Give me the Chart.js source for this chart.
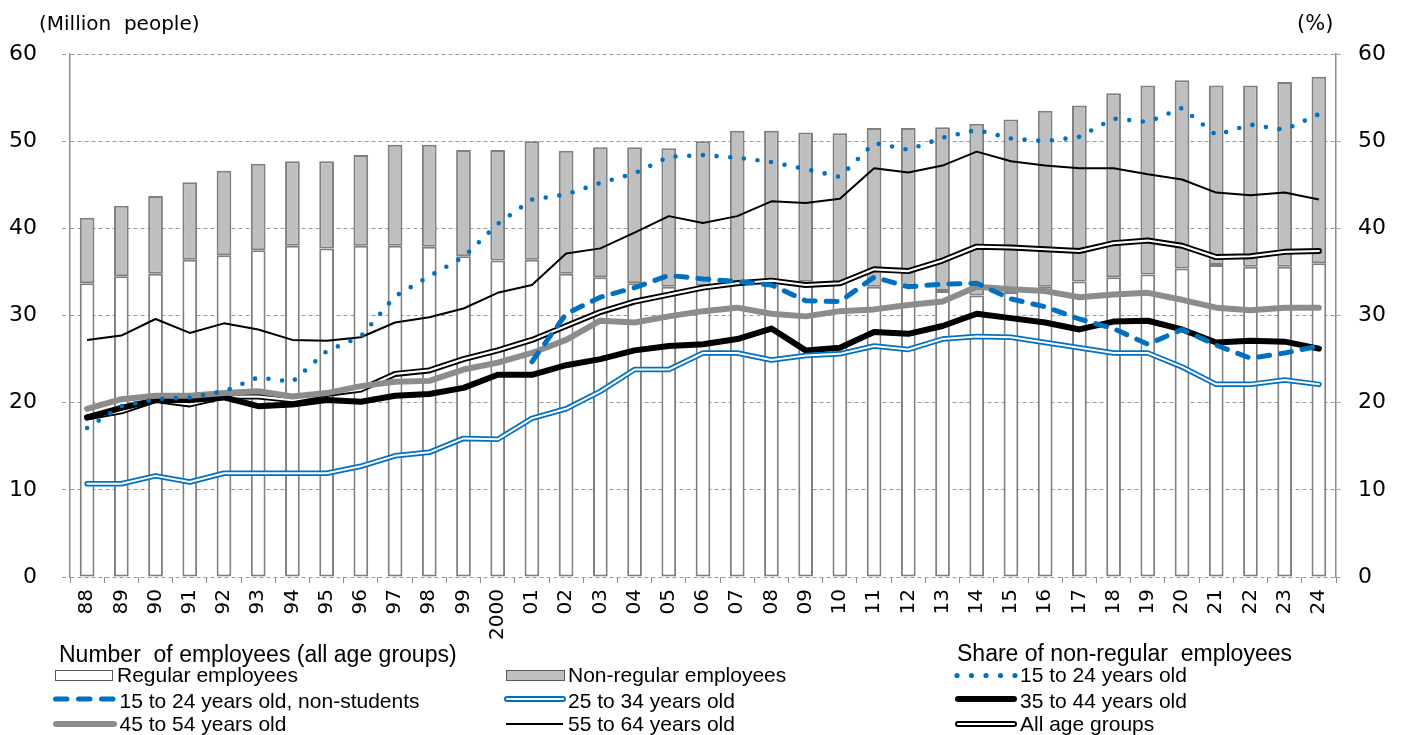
<!DOCTYPE html>
<html>
<head>
<meta charset="utf-8">
<script src="https://cdn.jsdelivr.net/npm/chart.js@4.4.1/dist/chart.umd.min.js"></script>
<style>
  html, body { margin: 0; padding: 0; background: #fff; }
  #wrap { position: relative; width: 1402px; height: 735px; overflow: hidden; }
  #c { position: absolute; left: 0; top: 0; }
  .t { position: absolute; white-space: pre; line-height: 1; transform: translateY(-50%); color: #000; }
  .axt { font-family: "DejaVu Sans", sans-serif; font-size: 20px; }
  .lh { font-family: "Liberation Sans", Arial, sans-serif; font-size: 23px; }
  .lg { font-family: "Liberation Sans", Arial, sans-serif; font-size: 21px; }
  #sw { position: absolute; left: 0; top: 0; pointer-events: none; }
</style>
</head>
<body>
<div id="wrap">
  <canvas id="c" width="1402" height="735"></canvas>

  <div class="t axt" style="left:39px;top:23px">(Million  people)</div>
  <div class="t axt" style="left:1297px;top:23px;font-size:21px">(%)</div>

  <svg id="sw" width="1402" height="735">
    <!-- bar swatches -->
    <rect x="55.5" y="670.5" width="57" height="10" fill="#ffffff" stroke="#595959" stroke-width="1"/>
    <rect x="506.5" y="670.5" width="58" height="10" fill="#bfbfbf" stroke="#595959" stroke-width="1"/>
    <!-- 15-24 non-students: dashed blue -->
    <line x1="55.5" y1="699" x2="114.5" y2="699" stroke="#0070c0" stroke-width="5" stroke-linecap="round" stroke-dasharray="11.5 11.5"/>
    <!-- 45-54: thick grey -->
    <line x1="56" y1="724" x2="114" y2="724" stroke="#8c8c8c" stroke-width="6" stroke-linecap="round"/>
    <!-- 25-34: double blue -->
    <line x1="507" y1="699" x2="563" y2="699" stroke="#0070c0" stroke-width="6" stroke-linecap="round"/>
    <line x1="507" y1="699" x2="563" y2="699" stroke="#ffffff" stroke-width="2.2" stroke-linecap="round"/>
    <!-- 55-64: thin black -->
    <line x1="506" y1="724" x2="563" y2="724" stroke="#000000" stroke-width="2"/>
    <!-- 15-24: dotted blue -->
    <g fill="#0070c0">
      <circle cx="957" cy="675.5" r="2.6"/>
      <circle cx="971.5" cy="675.5" r="2.6"/>
      <circle cx="986" cy="675.5" r="2.6"/>
      <circle cx="1000.5" cy="675.5" r="2.6"/>
      <circle cx="1015" cy="675.5" r="2.6"/>
    </g>
    <!-- 35-44: thick black -->
    <line x1="958" y1="699" x2="1014" y2="699" stroke="#000000" stroke-width="6" stroke-linecap="round"/>
    <!-- all age groups: double black -->
    <line x1="958" y1="724" x2="1014" y2="724" stroke="#000000" stroke-width="6" stroke-linecap="round"/>
    <line x1="958" y1="724" x2="1014" y2="724" stroke="#ffffff" stroke-width="2.2" stroke-linecap="round"/>
  </svg>

  <div class="t lh" style="left:59px;top:653.5px">Number  of employees (all age groups)</div>
  <div class="t lh" style="left:957px;top:652.5px">Share of non-regular  employees</div>

  <div class="t lg" style="left:117px;top:674px">Regular employees</div>
  <div class="t lg" style="left:568px;top:674px">Non-regular employees</div>
  <div class="t lg" style="left:1020px;top:674px">15 to 24 years old</div>

  <div class="t lg" style="left:119.5px;top:699.5px">15 to 24 years old, non-students</div>
  <div class="t lg" style="left:568px;top:699.5px">25 to 34 years old</div>
  <div class="t lg" style="left:1020px;top:699.5px">35 to 44 years old</div>

  <div class="t lg" style="left:119.5px;top:722.5px">45 to 54 years old</div>
  <div class="t lg" style="left:568px;top:722.5px">55 to 64 years old</div>
  <div class="t lg" style="left:1020px;top:722.5px">All age groups</div>
</div>

<script>
// Years on the category axis
const years = ['88','89','90','91','92','93','94','95','96','97','98','99','2000',
  '01','02','03','04','05','06','07','08','09','10','11','12','13','14','15','16',
  '17','18','19','20','21','22','23','24'];

// Number of employees, all age groups (million people)
const regular = [33.7,34.5,34.8,36.4,36.9,37.5,38.0,37.7,38.0,38.0,37.9,36.8,36.3,
  36.4,34.8,34.4,33.7,33.3,33.4,33.9,33.8,33.9,33.7,33.3,33.4,32.8,32.3,32.7,33.3,
  33.9,34.4,34.7,35.4,35.8,35.6,35.6,36.0];
const nonRegular = [7.5,8.1,8.9,8.9,9.7,9.9,9.7,10.0,10.4,11.6,11.7,12.2,12.7,
  13.6,14.1,14.9,15.6,15.9,16.6,17.3,17.4,17.1,17.2,18.2,18.1,18.8,19.7,19.8,20.2,
  20.2,21.1,21.7,21.6,20.6,20.8,21.2,21.4];

// Share of non-regular employees by age group (%)
const share15to24 = [17.1,19.6,20.4,20.6,21.3,22.9,22.4,25.9,27.6,32.2,34.5,36.7,40.5,
  43.3,43.9,45.2,46.3,48.2,48.4,48.1,47.6,46.8,45.9,49.8,49.0,50.4,51.3,50.3,50.0,
  50.5,52.6,52.2,53.8,50.7,51.9,51.3,53.1];
const share15to24NonStudents = [null,null,null,null,null,null,null,null,null,null,null,null,null,
  24.7,30.2,32.1,33.2,34.6,34.2,33.9,33.5,31.7,31.6,34.4,33.3,33.6,33.7,31.9,31.0,
  29.6,28.5,26.7,28.4,26.6,25.1,25.7,26.5];
const share25to34 = [10.7,10.7,11.6,10.9,11.9,11.9,11.9,11.9,12.7,13.9,14.3,15.9,15.8,
  18.2,19.3,21.3,23.8,23.8,25.7,25.7,24.9,25.4,25.6,26.5,26.1,27.3,27.6,27.5,26.9,
  26.3,25.7,25.7,24.1,22.1,22.1,22.6,22.1];
const share35to44 = [18.3,19.4,20.3,20.3,20.6,19.6,19.8,20.3,20.1,20.8,21.0,21.7,23.2,
  23.2,24.3,25.0,26.0,26.5,26.7,27.3,28.5,26.0,26.3,28.1,27.9,28.8,30.2,29.7,29.2,
  28.4,29.3,29.4,28.4,26.9,27.1,27.0,26.2];
const share45to54 = [19.3,20.4,20.8,20.8,21.1,21.3,20.7,21.1,21.9,22.4,22.5,23.8,24.6,
  25.7,27.2,29.4,29.2,29.9,30.5,30.9,30.2,29.9,30.5,30.7,31.2,31.6,33.3,33.0,32.8,
  32.1,32.4,32.6,31.8,30.9,30.6,30.9,30.9];
const share55to64 = [27.2,27.7,29.6,28.0,29.1,28.4,27.2,27.1,27.5,29.2,29.8,30.8,32.6,
  33.5,37.1,37.7,39.5,41.4,40.6,41.4,43.1,42.9,43.4,46.9,46.4,47.2,48.8,47.7,47.2,
  46.9,46.9,46.2,45.6,44.1,43.8,44.1,43.3];
const shareAllAges = [18.3,19.0,20.3,19.8,20.7,20.7,20.3,21.0,21.5,23.3,23.7,25.0,26.0,
  27.2,28.8,30.4,31.6,32.4,33.2,33.7,34.0,33.5,33.7,35.3,35.1,36.3,37.9,37.8,37.6,
  37.4,38.3,38.6,38.0,36.7,36.8,37.3,37.4];

// Shared axis range for both value axes
const axisMin = 0;
const axisMax = 60;
const axisStep = 10;

const BLUE = '#0070c0';
const tickFont = { family: 'DejaVu Sans', size: 22 };

function lineSet(data, extra) {
  return Object.assign({
    type: 'line',
    data: data,
    yAxisID: 'yR',
    pointRadius: 0,
    pointHoverRadius: 0,
    tension: 0,
    fill: false,
    borderJoinStyle: 'round',
    borderCapStyle: 'round'
  }, extra);
}

new Chart(document.getElementById('c'), {
  type: 'bar',
  data: {
    labels: years,
    datasets: [
      lineSet(share15to24, { borderColor: BLUE, borderWidth: 4.6, borderDash: [0, 13.7], order: 0 }),
      lineSet(share15to24NonStudents, { borderColor: BLUE, borderWidth: 5, borderDash: [11, 11], order: 1 }),
      lineSet(share25to34, { borderColor: '#ffffff', borderWidth: 2, order: 2 }),
      lineSet(share25to34, { borderColor: BLUE, borderWidth: 5.5, order: 3 }),
      lineSet(share45to54, { borderColor: '#8c8c8c', borderWidth: 6, order: 4 }),
      lineSet(share35to44, { borderColor: '#000000', borderWidth: 6, order: 5 }),
      lineSet(shareAllAges, { borderColor: '#ffffff', borderWidth: 2.2, order: 6 }),
      lineSet(shareAllAges, { borderColor: '#000000', borderWidth: 6, order: 7 }),
      lineSet(share55to64, { borderColor: '#000000', borderWidth: 2, borderCapStyle: 'butt', order: 8 }),
      {
        type: 'bar', data: regular, yAxisID: 'y', order: 10,
        backgroundColor: '#ffffff', borderColor: '#7f7f7f', borderWidth: 2, borderSkipped: false,
        barPercentage: 0.43, categoryPercentage: 1
      },
      {
        type: 'bar', data: nonRegular, yAxisID: 'y', order: 11,
        backgroundColor: '#bfbfbf', borderColor: '#7f7f7f', borderWidth: 2, borderSkipped: false,
        barPercentage: 0.43, categoryPercentage: 1
      }
    ]
  },
  options: {
    responsive: false,
    animation: false,
    events: [],
    layout: { padding: { top: 54, left: 0, right: 0, bottom: 0 } },
    plugins: { legend: { display: false }, tooltip: { enabled: false }, title: { display: false } },
    scales: {
      x: {
        stacked: true,
        grid: { display: true, drawOnChartArea: false, offset: true, tickLength: 6, color: '#8c8c8c', lineWidth: 1 },
        border: { display: false },
        ticks: { autoSkip: false, minRotation: 90, maxRotation: 90, padding: 6, color: '#000',
                 font: { family: 'DejaVu Sans', size: 20 } },
        afterFit: s => { s.height = 158; }
      },
      y: {
        stacked: true,
        position: 'left',
        min: axisMin, max: axisMax,
        ticks: { stepSize: axisStep, padding: 25, color: '#000', font: tickFont },
        grid: { color: '#9a9a9a', lineWidth: 1, tickLength: 8, tickColor: '#9a9a9a', tickBorderDash: [4, 3] },
        border: { display: true, color: '#8c8c8c', width: 1.5, dash: [4, 3] },
        afterFit: s => { s.width = 70; }
      },
      yR: {
        stacked: false,
        position: 'right',
        min: axisMin, max: axisMax,
        ticks: { stepSize: axisStep, padding: 15, color: '#000', font: tickFont },
        grid: { drawOnChartArea: false, tickLength: 7, color: '#9a9a9a', tickColor: '#9a9a9a', tickBorderDash: [4, 3] },
        border: { display: true, color: '#8c8c8c', width: 1.5 },
        afterFit: s => { s.width = 66; }
      }
    }
  }
});
</script>
</body>
</html>
